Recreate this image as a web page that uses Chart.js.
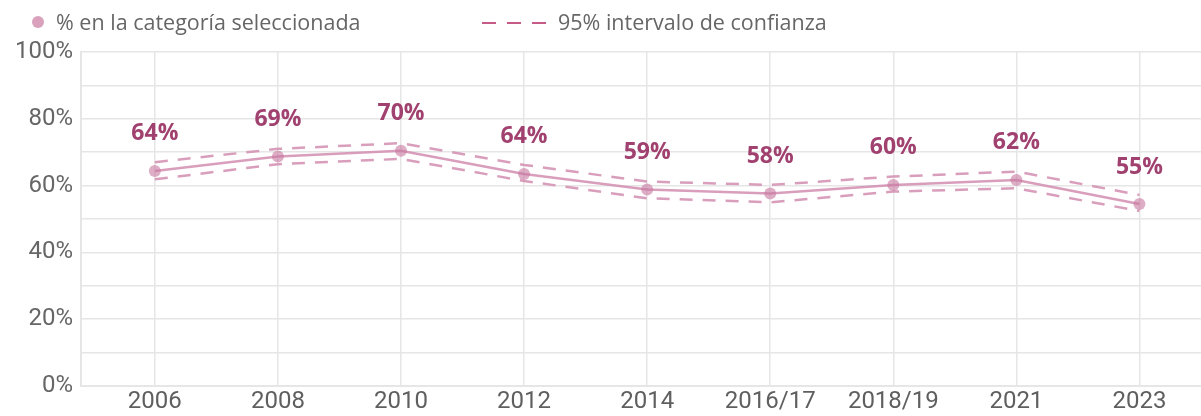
<!DOCTYPE html>
<html>
<head>
<meta charset="utf-8">
<script src="https://cdn.jsdelivr.net/npm/chart.js@4/dist/chart.umd.min.js"></script>
<style>
  html, body { margin: 0; padding: 0; background: #fff; }
  #wrap { position: relative; width: 1201px; height: 416px; }
  #legend { position: absolute; top: 8px; left: 0; font-family: "Open Sans", sans-serif; font-size: 21.5px; color: #666; }
  .item { position: absolute; top: 0; white-space: nowrap; line-height: 28px; }
  .dot { position: absolute; left: 32px; top: 8px; width: 12px; height: 12px; border-radius: 50%; background: #d9a1bc; }
  .dash { position: absolute; top: 14px; width: 14px; height: 2px; background: #c65b88; }
  canvas { position: absolute; left: 0; top: 0; }
</style>
</head>
<body>
<div id="wrap">
  <canvas id="chart" width="1201" height="416"></canvas>
  <div id="legend">
    <span class="dot"></span><span class="item" style="left:56px">% en la categoría seleccionada</span>
    <span class="dash" style="left:482px"></span><span class="dash" style="left:507px"></span><span class="dash" style="left:532px"></span>
    <span class="item" style="left:558px">95% intervalo de confianza</span>
  </div>
</div>
<script>
const years = ['2006', '2008', '2010', '2012', '2014', '2016/17', '2018/19', '2021', '2023'];
const share = [64.4, 68.7, 70.4, 63.5, 58.8, 57.6, 60.2, 61.7, 54.5];
const upper = [67.0, 71.0, 72.7, 66.2, 61.2, 60.2, 62.7, 64.2, 57.2];
const lower = [61.9, 66.4, 68.0, 61.4, 56.2, 55.0, 58.2, 59.2, 52.4];

const pts = arr => arr.map((v, i) => ({ x: i, y: v }));

const lineColor = 'rgba(212, 148, 180, 0.9)';
const labelColor = '#a0416f';

const valueLabels = {
  id: 'valueLabels',
  afterDatasetsDraw(chart) {
    const ctx = chart.ctx;
    const meta = chart.getDatasetMeta(0);
    ctx.save();
    ctx.font = 'bold 23px "Open Sans"';
    ctx.fillStyle = labelColor;
    ctx.textAlign = 'center';
    ctx.textBaseline = 'middle';
    meta.data.forEach((p, i) => {
      ctx.fillText(Math.round(share[i]) + '%', p.x, p.y - 37);
    });
    ctx.restore();
  }
};

new Chart(document.getElementById('chart'), {
  type: 'line',
  data: {
    datasets: [
      {
        data: pts(share),
        borderColor: lineColor,
        borderWidth: 2.5,
        pointRadius: 6,
        pointBackgroundColor: 'rgba(200, 120, 160, 0.6)',
        pointBorderWidth: 0,
        order: 0
      },
      {
        data: pts(upper),
        borderColor: lineColor,
        borderWidth: 2.5,
        borderDash: [13, 10],
        pointRadius: 0,
        order: 1
      },
      {
        data: pts(lower),
        borderColor: lineColor,
        borderWidth: 2.5,
        borderDash: [13, 10],
        pointRadius: 0,
        order: 1
      }
    ]
  },
  options: {
    responsive: false,
    animation: false,
    layout: { autoPadding: false, padding: { top: 52, right: 0, left: 0, bottom: 0 } },
    plugins: { legend: { display: false }, tooltip: { enabled: false } },
    scales: {
      x: {
        type: 'linear',
        min: -0.6,
        max: 8.5,
        afterBuildTicks: s => { s.ticks = years.map((y, i) => ({ value: i })); },
        afterFit: s => { s.height = 30; s.paddingRight = 0; s.paddingLeft = 0; },
        ticks: {
          autoSkip: false,
          maxRotation: 0,
          padding: 2,
          color: '#5f5f5f',
          font: { family: 'Roboto', size: 24 },
          callback: v => years[v]
        },
        grid: { color: '#e6e6e6', lineWidth: 1.5, drawTicks: false },
        border: { color: '#e6e6e6', width: 2 }
      },
      y: {
        min: 0,
        max: 100,
        afterFit: s => { s.width = 81; s.paddingTop = 0; s.paddingBottom = 0; },
        ticks: {
          stepSize: 10,
          autoSkip: false,
          padding: 8,
          color: '#666',
          font: { family: 'Roboto', size: 24 },
          callback: v => (v % 20 === 0 ? v + '%' : '')
        },
        grid: { color: '#e6e6e6', lineWidth: 1.5, drawTicks: false },
        border: { color: '#e6e6e6', width: 2 }
      }
    }
  },
  plugins: [valueLabels]
});
</script>
</body>
</html>
